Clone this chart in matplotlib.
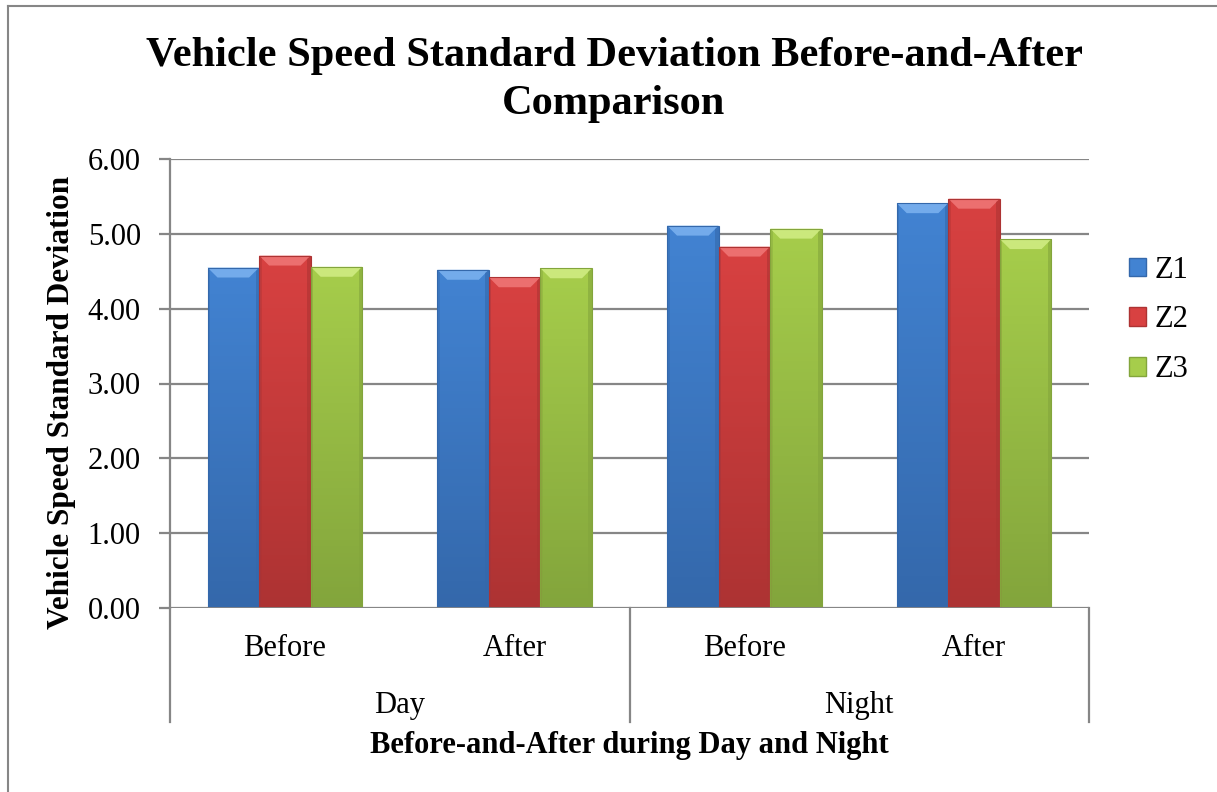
import numpy as np
import matplotlib
matplotlib.use("Agg")
import matplotlib.pyplot as plt
from matplotlib.patches import Polygon, Rectangle, Patch
from matplotlib.colors import LinearSegmentedColormap
import matplotlib.transforms as mtransforms

# ---- data ----
periods = ["Before", "After", "Before", "After"]
groups = ["Day", "Night"]
series = ["Z1", "Z2", "Z3"]
z1 = [4.55, 4.52, 5.11, 5.41]
z2 = [4.71, 4.42, 4.83, 5.47]
z3 = [4.56, 4.54, 5.07, 4.93]
yticks = [0, 1, 2, 3, 4, 5, 6]

top_colors = ["#4283d2", "#d84141", "#a6cd4b"]
bot_colors = ["#3468ab", "#ad3333", "#83a53c"]
light_colors = ["#7db3f0", "#f07878", "#d2ee86"]

plt.rcParams['font.family'] = ['Liberation Serif', 'DejaVu Serif']

W, H = 1217, 792
fig = plt.figure(figsize=(W / 100, H / 100), dpi=100)
ax = fig.add_axes([170 / W, 1 - 608 / H, (1089 - 170) / W, (608 - 159) / H])

x = np.arange(len(periods))
bw = 0.2245
ax.set_xlim(-0.5, len(periods) - 0.5)
ax.set_ylim(0, 6)

grid_c = "#868686"
for t in yticks:
    ax.axhline(t, color=grid_c, lw=1.6, zorder=1)

ppx = (1089 - 170) / 4.0   # px per x unit
ppy = (608 - 159) / 6.0    # px per y unit
bev_px = 10

for i, vals in enumerate([z1, z2, z3]):
    bars = ax.bar(x + (i - 1) * bw, vals, width=bw, color=top_colors[i],
                  edgecolor="none", zorder=3)
    cmap = LinearSegmentedColormap.from_list("g%d" % i, [bot_colors[i], top_colors[i]])
    for b in bars:
        x0, w, h = b.get_x(), b.get_width(), b.get_height()
        grad = np.linspace(0, 1, 100).reshape(-1, 1)
        im = ax.imshow(grad, extent=[x0, x0 + w, 0, h], origin="lower", cmap=cmap,
                       aspect="auto", zorder=4, vmin=0, vmax=1)
        im.set_clip_path(b)
        dx = bev_px / ppx
        dy = bev_px / ppy
        # top bevel
        ax.add_patch(Polygon([[x0, h], [x0 + w, h], [x0 + w - dx, h - dy], [x0 + dx, h - dy]],
                             closed=True, facecolor=light_colors[i], edgecolor="none",
                             alpha=0.85, zorder=5))
        # bottom bevel (subtle)
        ax.add_patch(Polygon([[x0, 0], [x0 + w, 0], [x0 + w - dx, dy], [x0 + dx, dy]],
                             closed=True, facecolor=bot_colors[i], edgecolor="none",
                             alpha=0.35, zorder=5))
        # side edges darker
        ax.add_patch(Polygon([[x0 + w, h], [x0 + w, 0], [x0 + w - dx * 0.35, 0], [x0 + w - dx * 0.35, h - dy * 0.35]],
                             closed=True, facecolor=bot_colors[i], edgecolor="none",
                             alpha=0.6, zorder=5))
        ax.add_patch(Polygon([[x0, h], [x0, 0], [x0 + dx * 0.25, 0], [x0 + dx * 0.25, h - dy * 0.25]],
                             closed=True, facecolor=bot_colors[i], edgecolor="none",
                             alpha=0.4, zorder=5))
        ax.add_patch(Rectangle((x0, 0), w, h, facecolor="none",
                               edgecolor=bot_colors[i], lw=0.8, zorder=6))

ax.axhline(0, color=grid_c, lw=2, zorder=7)

for s in ["top", "right", "bottom"]:
    ax.spines[s].set_visible(False)
ax.spines["left"].set_color(grid_c)
ax.spines["left"].set_linewidth(1.6)
ax.set_yticks(yticks)
ax.set_yticklabels(["%.2f" % t for t in yticks], fontsize=22)
ax.tick_params(axis="y", length=8, width=1.6, color=grid_c, pad=13)
ax.set_xticks([])

trans = mtransforms.blended_transform_factory(ax.transData, ax.transAxes)
ax_h = 608 - 159
y_end = -(722 - 608) / ax_h
for xv in [-0.5, 1.5, 3.5]:
    ax.plot([xv, xv], [0, y_end], transform=trans, color=grid_c, lw=1.6, clip_on=False)

for xi, lab in zip(x, periods):
    ax.text(xi, -(648 - 608) / ax_h, lab, transform=trans, ha="center", va="center", fontsize=22)
for gi, g in enumerate(groups):
    ax.text(gi * 2 + 0.5, -(705 - 608) / ax_h, g, transform=trans, ha="center", va="center", fontsize=22)

fig.text(629 / W, 1 - 746 / H, "Before-and-After during Day and Night", ha="center", va="center",
         fontsize=22, fontweight="bold")
fig.text(62 / W, 1 - 402 / H, "Vehicle Speed Standard Deviation", ha="center", va="center",
         rotation=90, fontsize=22.5, fontweight="bold")
fig.text(614 / W, 1 - 80 / H, "Vehicle Speed Standard Deviation Before-and-After\nComparison",
         ha="center", va="center", fontsize=30.5, fontweight="bold", linespacing=1.32)

handles = [Patch(facecolor=top_colors[i], edgecolor=bot_colors[i]) for i in range(3)]
leg = fig.legend(handles, series, loc="center left", bbox_to_anchor=(1129 / W, 1 - 320 / H),
                 frameon=False, fontsize=22, handlelength=0.55, handleheight=0.55,
                 handletextpad=0.3, labelspacing=0.68, borderaxespad=0, borderpad=0)

# outer chart border
fig.add_artist(plt.Line2D([8 / W, 8 / W], [0, 1 - 6 / H], transform=fig.transFigure, color=grid_c, lw=1.5))
fig.add_artist(plt.Line2D([8 / W, 1], [1 - 6 / H, 1 - 6 / H], transform=fig.transFigure, color=grid_c, lw=1.5))

fig.savefig("out.png", dpi=100)
